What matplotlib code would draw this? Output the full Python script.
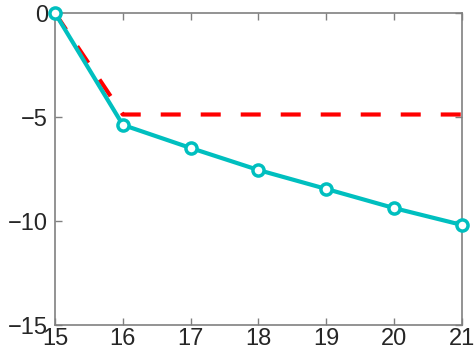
import matplotlib
matplotlib.use("Agg")
import matplotlib.pyplot as plt

plt.rcParams['font.family'] = ['Liberation Sans', 'DejaVu Sans']

x_vals = [15, 16, 17, 18, 19, 20, 21]
cyan_vals = [0, -5.38, -6.49, -7.55, -8.46, -9.38, -10.19]
red_vals = [0, -4.88, -4.88, -4.88, -4.88, -4.88, -4.88]
y_ticks = [-15, -10, -5, 0]

fig = plt.figure(figsize=(4.77, 3.58), dpi=100)
ax = fig.add_axes([55 / 477, 1 - 325 / 358, (462 - 55) / 477, (325 - 13) / 358])

ax.plot(x_vals, red_vals, color='#FF0000', lw=3, dashes=(4.8, 4.8), zorder=2)
ax.plot(x_vals, cyan_vals, color='#00BFBF', lw=3, marker='o', ms=8,
        mfc='white', mec='#00BFBF', mew=2.5, zorder=3, clip_on=False)

ax.set_xlim(15, 21)
ax.set_ylim(-15, 0)
ax.set_xticks(x_vals)
ax.set_yticks(y_ticks)
ax.tick_params(direction='in', length=5, width=1, colors='#808080',
               labelcolor='#262626', labelsize=17, top=True, right=True)
ax.tick_params(axis='x', pad=2)
ax.tick_params(axis='y', pad=5)
for s in ax.spines.values():
    s.set_color('#808080')
    s.set_linewidth(1.2)

fig.savefig('out.png', dpi=100)
